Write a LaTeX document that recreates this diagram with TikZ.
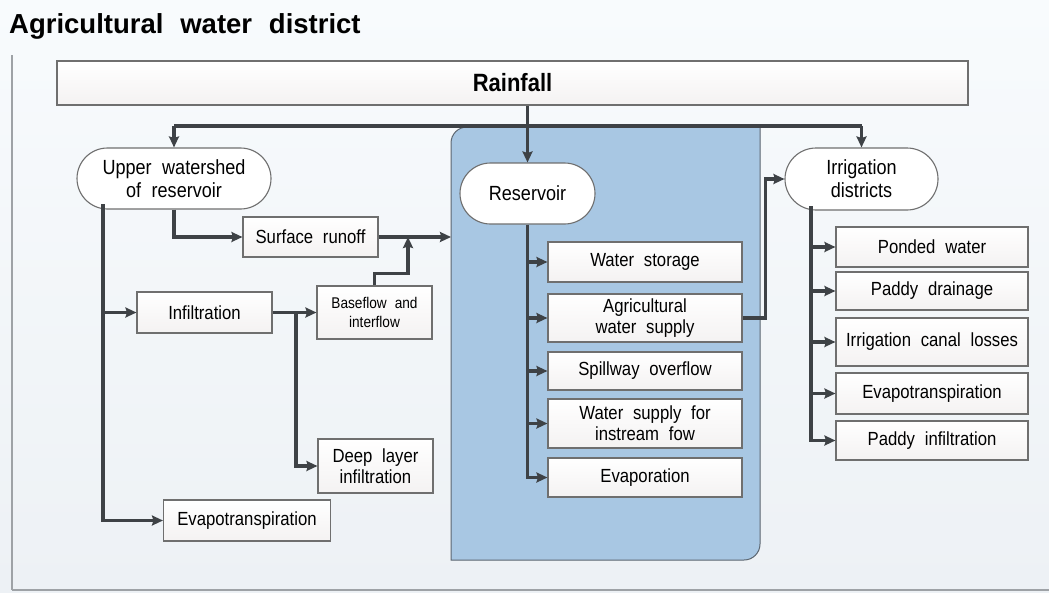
\documentclass[tikz,border=0pt]{standalone}
\usepackage{fontspec}
\setmainfont{Liberation Sans}[FakeStretch=0.88,WordSpace=2.1]
\newfontfamily\titlefont{Liberation Sans}[WordSpace=2.2]
\usetikzlibrary{arrows.meta,shapes.misc}
\definecolor{ln}{HTML}{3E4246}
\definecolor{bord}{HTML}{6F6F6F}
\definecolor{panelc}{HTML}{A8C7E3}
\definecolor{panelb}{HTML}{5C6670}
\definecolor{bgtop}{HTML}{F8FBFD}
\definecolor{bgbot}{HTML}{EDF1F5}
\definecolor{boxbot}{HTML}{F4F2F2}
\definecolor{frame}{HTML}{9EA2A6}
\tikzset{
  flowbox/.style={draw=bord, line width=1.1pt, top color=white, bottom color=boxbot,
    inner sep=0pt, align=center, font={\fontsize{19}{21}\selectfont}},
  stadium/.style={rounded rectangle, draw=bord, line width=1.1pt, fill=white,
    inner sep=0pt, align=center, font={\fontsize{20.5}{23}\selectfont}},
  flowline/.style={draw=ln, line width=3.2pt},
  flowarrow/.style={flowline, -{Stealth[length=11pt,width=10pt,inset=1.5pt]}},
}
\begin{document}
\begin{tikzpicture}[x=1pt,y=-1pt]
\path[use as bounding box, top color=bgtop, bottom color=bgbot] (0,0) rectangle (1049,592);
% frame
\draw[frame, line width=1.2pt] (12,55) -- (12,590);
\draw[frame, line width=2.5pt] (12,590) -- (1049,590);
% title
\node[anchor=base west, inner sep=0pt, font={\titlefont\bfseries\fontsize{27.5}{30}\selectfont}] (title) at (9,33) {Agricultural water district};
% reservoir panel
\draw[fill=panelc, draw=panelb, line width=1pt] (451,300) [rounded corners=16pt] -- (451,127) [sharp corners] -- (760,127) [rounded corners=16pt] -- (760,560) [sharp corners] -- (451,560) -- cycle;
% rainfall
\node[flowbox, minimum width=911pt, minimum height=44pt, font={\bfseries\fontsize{25}{28}\selectfont}] (rain) at (512.5,83) {Rainfall};
% stadiums
\node[stadium, minimum width=194pt, minimum height=61pt] (up) at (174,178.5) {Upper watershed\\of reservoir};
\node[stadium, minimum width=135pt, minimum height=61pt] (res) at (527.5,193.5) {Reservoir};
\node[stadium, minimum width=153pt, minimum height=62pt] (irr) at (861.5,179) {Irrigation\\districts};
% left boxes
\node[flowbox, minimum width=135pt, minimum height=40pt] (sr) at (310.5,237) {Surface runoff};
\node[flowbox, minimum width=135pt, minimum height=41pt] (inf) at (204.5,312.5) {Infiltration};
\node[flowbox, minimum width=115pt, minimum height=53pt, font={\fontsize{15.5}{18.5}\selectfont}] (bf) at (374.5,312.5) {Baseflow and\\interflow};
\node[flowbox, minimum width=115pt, minimum height=54pt] (deep) at (375.5,466) {Deep layer\\infiltration};
\node[flowbox, minimum width=167pt, minimum height=41pt] (ev1) at (247,520.5) {Evapotranspiration};
% reservoir boxes
\node[flowbox, minimum width=194pt, minimum height=40pt] (ws) at (645,262) {Water storage};
\node[flowbox, minimum width=194pt, minimum height=48pt] (aws) at (645,318) {Agricultural\\water supply};
\node[flowbox, minimum width=194pt, minimum height=38pt] (so) at (645,371) {Spillway overflow};
\node[flowbox, minimum width=194pt, minimum height=49pt] (wsi) at (645,423.5) {Water supply for\\instream fow};
\node[flowbox, minimum width=194pt, minimum height=39pt] (evap) at (645,477.5) {Evaporation};
% irrigation boxes
\node[flowbox, minimum width=192pt, minimum height=40pt] (pw) at (932,247) {Ponded water};
\node[flowbox, minimum width=192pt, minimum height=38pt] (pd) at (932,291) {Paddy drainage};
\node[flowbox, minimum width=192pt, minimum height=48pt] (icl) at (932,342) {Irrigation canal losses};
\node[flowbox, minimum width=192pt, minimum height=41pt] (ev2) at (932,393.5) {Evapotranspiration};
\node[flowbox, minimum width=192pt, minimum height=39pt] (pi) at (932,440.5) {Paddy infiltration};
% distribution from rainfall
\coordinate (dleft) at (174,126);
\coordinate (dright) at (861.5,126);
\draw[flowline] (dleft) -- (dright);
\draw[flowarrow] (rain.south -| res.north) -- (res.north);
\draw[flowarrow] (dleft) -- (up.north);
\draw[flowarrow] (dright) -- (irr.north);
% upper watershed
\draw[flowarrow] (up.south) |- (sr.west);
\coordinate (sin) at (451,237);
\draw[flowarrow] (sr.east) -- (sin);
\coordinate (bj) at (408,237);
\draw[flowarrow] (bf.north) -- ++(0,-12) -| (bj);
\coordinate (ut) at (103,204);
\draw[flowarrow] (ut) |- (ev1.west);
\draw[flowarrow] (ut |- inf.west) -- (inf.west);
\draw[flowarrow] (inf.east) -- (bf.west);
\coordinate (ib) at (296,312.5);
\draw[flowarrow] (ib) |- (deep.west);
% reservoir
\draw[flowarrow] (res.south) |- (evap.west);
\draw[flowarrow] (res.south |- ws.west) -- (ws.west);
\draw[flowarrow] (res.south |- aws.west) -- (aws.west);
\draw[flowarrow] (res.south |- so.west) -- (so.west);
\draw[flowarrow] (res.south |- wsi.west) -- (wsi.west);
\draw[flowarrow] (aws.east) -- ++(23,0) |- (irr.west);
% irrigation
\coordinate (it) at (811,206);
\draw[flowarrow] (it) |- (pi.west);
\draw[flowarrow] (it |- pw.west) -- (pw.west);
\draw[flowarrow] (it |- pd.west) -- (pd.west);
\draw[flowarrow] (it |- icl.west) -- (icl.west);
\draw[flowarrow] (it |- ev2.west) -- (ev2.west);
\end{tikzpicture}
\end{document}
